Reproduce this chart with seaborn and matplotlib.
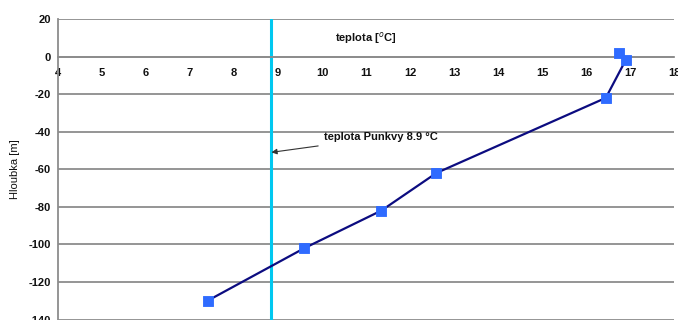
import matplotlib
matplotlib.use("Agg")
import matplotlib.pyplot as plt
import seaborn as sns
import pandas as pd

# data
temperature = [7.4, 9.6, 11.35, 12.6, 16.45, 16.9, 16.75]
depth = [-130, -102, -82, -62, -22, -2, 2]
punkva_temp = 8.85
x_ticks = list(range(4, 19))
y_ticks = list(range(-140, 21, 20))

sns.set_theme(style="white")
plt.rcParams['font.family'] = ['Liberation Sans', 'DejaVu Sans']
plt.rcParams['axes.unicode_minus'] = False

df = pd.DataFrame({"teplota": temperature, "hloubka": depth})

fig = plt.figure(figsize=(6.78, 3.20), dpi=100)
ax = fig.add_axes([58/678, 1 - 319.5/320, 616/678, 300.5/320])

ax.set_xlim(4, 18)
ax.set_ylim(-140, 20)
ax.set_yticks(y_ticks)
ax.set_xticks(x_ticks)
for y in y_ticks:
    ax.axhline(y, color="#8c8c8c", lw=1.3, zorder=0)

ax.axvline(punkva_temp, color="#00c8f0", lw=2.2, zorder=2)

sns.lineplot(data=df, x="teplota", y="hloubka", sort=False, ax=ax,
             color="#0c0c80", lw=1.6, zorder=3, estimator=None)
sns.scatterplot(data=df, x="teplota", y="hloubka", ax=ax, marker="s",
                s=62, color="#2f6bff", edgecolor="#2f6bff", zorder=4)

for s in ["top", "right"]:
    ax.spines[s].set_visible(False)
ax.spines["left"].set_color("#8c8c8c")
ax.spines["left"].set_linewidth(1.3)
ax.spines["bottom"].set_position(("data", 0))
ax.spines["bottom"].set_color("#8c8c8c")
ax.spines["bottom"].set_linewidth(1.3)

ax.tick_params(axis="x", direction="inout", length=4, pad=6, width=1,
               color="#8c8c8c", labelsize=8, labelcolor="#111111")
ax.tick_params(axis="y", direction="out", length=3, pad=2, width=1,
               color="#8c8c8c", labelsize=8, labelcolor="#111111")
for lbl in ax.get_xticklabels() + ax.get_yticklabels():
    lbl.set_fontweight("bold")

ax.set_xlabel("")
ax.set_ylabel("Hloubka [m]", fontsize=8, color="#111111")
ax.yaxis.set_label_coords(-0.062, 0.5)

ax.text(11.0, 10, "teplota [$^{o}$C]", fontsize=8, fontweight="bold",
        ha="center", va="center", color="#111111")
ax.annotate("teplota Punkvy 8.9 °C", xy=(punkva_temp, -51), xytext=(10.05, -43),
            fontsize=8, fontweight="bold", color="#111111", va="center", ha="left",
            arrowprops=dict(arrowstyle="-|>", color="#333333", lw=0.8,
                            shrinkA=2, shrinkB=0, mutation_scale=8))

fig.savefig("out.png", dpi=100)
